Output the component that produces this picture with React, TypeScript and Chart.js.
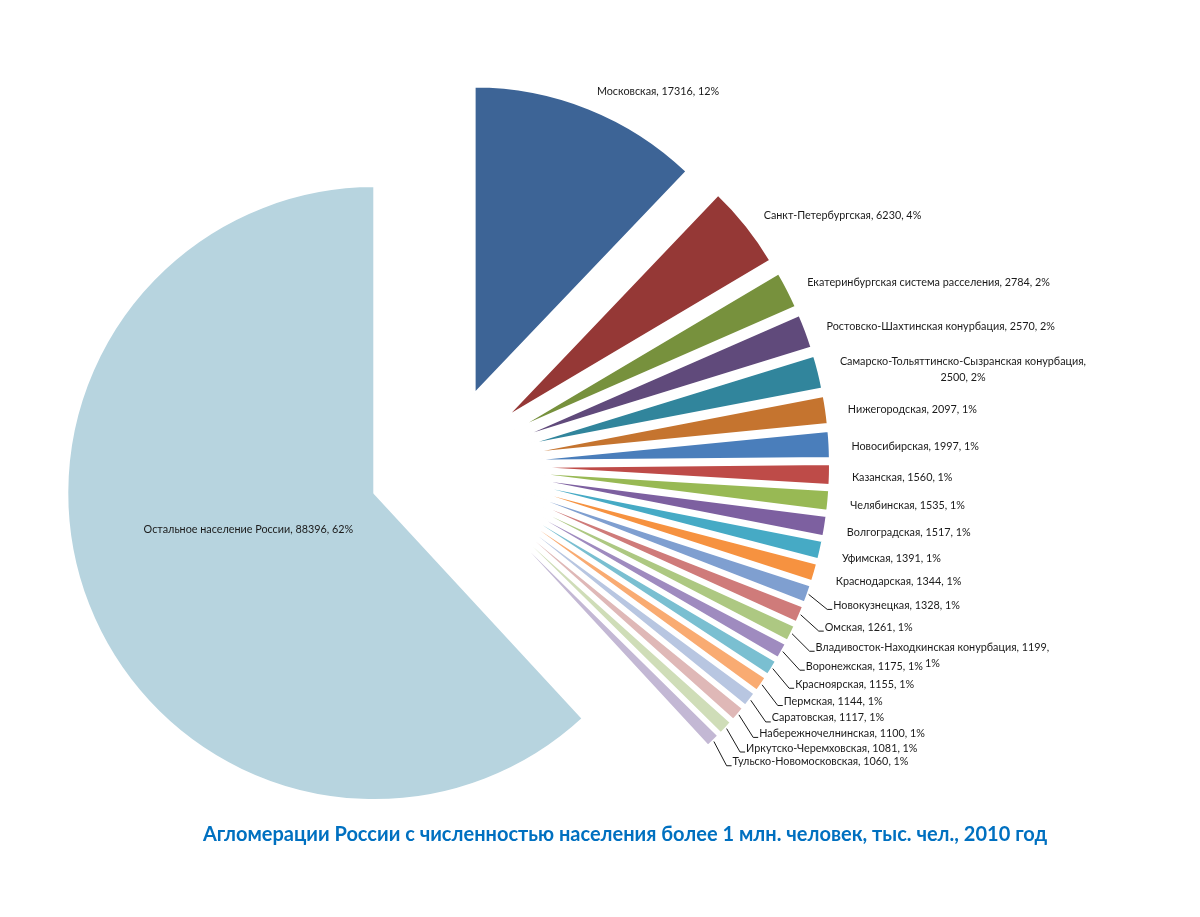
import React, { useEffect, useRef } from "react";
import { Chart, registerables } from "chart.js";

Chart.register(...registerables);

const categories = [
  "Московская",
  "Санкт-Петербургская",
  "Екатеринбургская система расселения",
  "Ростовско-Шахтинская конурбация",
  "Самарско-Тольяттинско-Сызранская конурбация",
  "Нижегородская",
  "Новосибирская",
  "Казанская",
  "Челябинская",
  "Волгоградская",
  "Уфимская",
  "Краснодарская",
  "Новокузнецкая",
  "Омская",
  "Владивосток-Находкинская конурбация",
  "Воронежская",
  "Красноярская",
  "Пермская",
  "Саратовская",
  "Набережночелнинская",
  "Иркутско-Черемховская",
  "Тульско-Новомосковская",
  "Остальное население России",
];

const populationValues = [
  17316, 6230, 2784, 2570, 2500, 2097, 1997, 1560, 1535, 1517, 1391, 1344,
  1328, 1261, 1199, 1175, 1155, 1144, 1117, 1100, 1081, 1060, 88396,
];

const sliceColors = [
  "#3d6496", "#953836", "#77913d", "#604a7b", "#31859c", "#c5742f",
  "#4a7ebb", "#be4b48", "#98b954", "#7d60a0", "#46aac5", "#f69240",
  "#7f9fd0", "#cf7b7a", "#adc882", "#9f8bbf", "#7abfd1", "#f9ab72",
  "#b8c6e1", "#dfb8b7", "#cfddb8", "#c3b8d4", "#b7d4df",
];

const chartTitle =
  "Агломерации России с численностью населения более 1 млн. человек, тыс. чел., 2010 год";

const RADIUS = 307;
const EXPLODE = 77;
const LABEL_GAP = 22;
const LEADER_GAP = 25;
const LABEL_FONT = '10.8px Lato, "Open Sans", sans-serif';
const TITLE_FONT = 'bold 20px Lato, "Open Sans", sans-serif';
const MAX_LABEL_W = 248;
const LINE_H = 16;
const LEADER_MIN_DEG = 108;

function wrapText(ctx: CanvasRenderingContext2D, text: string, maxW: number): string[] {
  const words = text.split(" ");
  const lines: string[] = [];
  let cur = "";
  for (const w of words) {
    const test = cur ? cur + " " + w : w;
    if (cur && ctx.measureText(test).width > maxW) {
      lines.push(cur);
      cur = w;
    } else {
      cur = test;
    }
  }
  if (cur) lines.push(cur);
  return lines;
}

const explodePlugin = {
  id: "explodeSlices",
  beforeDatasetDraw(chart: any, args: any) {
    const ctx = chart.ctx as CanvasRenderingContext2D;
    args.meta.data.forEach((arc: any) => {
      const mid = (arc.startAngle + arc.endAngle) / 2;
      ctx.save();
      ctx.translate(Math.cos(mid) * EXPLODE, Math.sin(mid) * EXPLODE);
      arc.draw(ctx, chart.chartArea);
      ctx.restore();
    });
    return false;
  },
};

const labelPlugin = {
  id: "sliceLabels",
  afterDatasetsDraw(chart: any) {
    const ctx = chart.ctx as CanvasRenderingContext2D;
    const meta = chart.getDatasetMeta(0);
    const total = populationValues.reduce((a, b) => a + b, 0);
    ctx.save();
    ctx.font = LABEL_FONT;
    ctx.fillStyle = "#1a1a1a";
    ctx.strokeStyle = "#1a1a1a";
    ctx.lineWidth = 1;
    ctx.textBaseline = "middle";
    meta.data.forEach((arc: any, i: number) => {
      const mid = (arc.startAngle + arc.endAngle) / 2;
      const dx = Math.cos(mid);
      const dy = Math.sin(mid);
      const frac = populationValues[i] / total;
      const text = `${categories[i]}, ${populationValues[i]}, ${Math.round(frac * 100)}%`;
      if (frac > 0.5) {
        const ax = arc.x + dx * (EXPLODE + RADIUS * 0.43) - 3;
        const ay = arc.y + dy * (EXPLODE + RADIUS * 0.43) - 12;
        ctx.textAlign = "center";
        ctx.fillText(text, ax, ay);
        return;
      }
      const deg = ((mid + Math.PI / 2) * 180) / Math.PI;
      const leader = deg > LEADER_MIN_DEG;
      const rl = RADIUS + EXPLODE + (leader ? LEADER_GAP : LABEL_GAP);
      const lx = arc.x + dx * rl;
      const ly = arc.y + dy * rl;
      const lines = wrapText(ctx, text, MAX_LABEL_W);
      const widths = lines.map((l) => ctx.measureText(l).width);
      const blockW = Math.max(...widths);
      let left = lx;
      let firstY = ly + 3 - ((lines.length - 1) * LINE_H) / 2;
      if (leader) {
        left = lx + 2;
        firstY = ly + 3;
        const ox = arc.x + dx * (RADIUS + EXPLODE + 1);
        const oy = arc.y + dy * (RADIUS + EXPLODE + 1);
        ctx.beginPath();
        ctx.moveTo(ox, oy);
        ctx.lineTo(left - 6, firstY + 4);
        ctx.lineTo(left - 1, firstY + 4);
        ctx.stroke();
      }
      ctx.textAlign = "center";
      lines.forEach((l, k) => {
        ctx.fillText(l, left + blockW / 2, firstY + k * LINE_H);
      });
    });
    ctx.restore();
  },
  afterDraw(chart: any) {
    const ctx = chart.ctx as CanvasRenderingContext2D;
    ctx.save();
    ctx.font = TITLE_FONT;
    ctx.fillStyle = "#0070c0";
    ctx.textAlign = "center";
    ctx.textBaseline = "middle";
    ctx.fillText(chartTitle, 625, 835);
    ctx.restore();
  },
};

export default function App() {
  const ref = useRef<HTMLCanvasElement | null>(null);
  useEffect(() => {
    if (!ref.current) return;
    const chart = new Chart(ref.current, {
      type: "pie",
      data: {
        labels: categories,
        datasets: [
          {
            data: populationValues,
            backgroundColor: sliceColors,
            borderColor: "#ffffff",
            borderWidth: 2,
            radius: RADIUS,
          } as any,
        ],
      },
      options: {
        responsive: false,
        animation: false,
        events: [],
        layout: { padding: { left: 0, right: 308, top: 13, bottom: 0 } },
        plugins: {
          legend: { display: false },
          tooltip: { enabled: false },
          title: { display: false },
        },
      } as any,
      plugins: [explodePlugin, labelPlugin],
    });
    return () => chart.destroy();
  }, []);
  return (
    <div style={{ position: "absolute", left: 0, top: 0, width: 1200, height: 917, background: "#fff" }}>
      <canvas ref={ref} width={1200} height={917} style={{ display: "block" }} />
    </div>
  );
}
